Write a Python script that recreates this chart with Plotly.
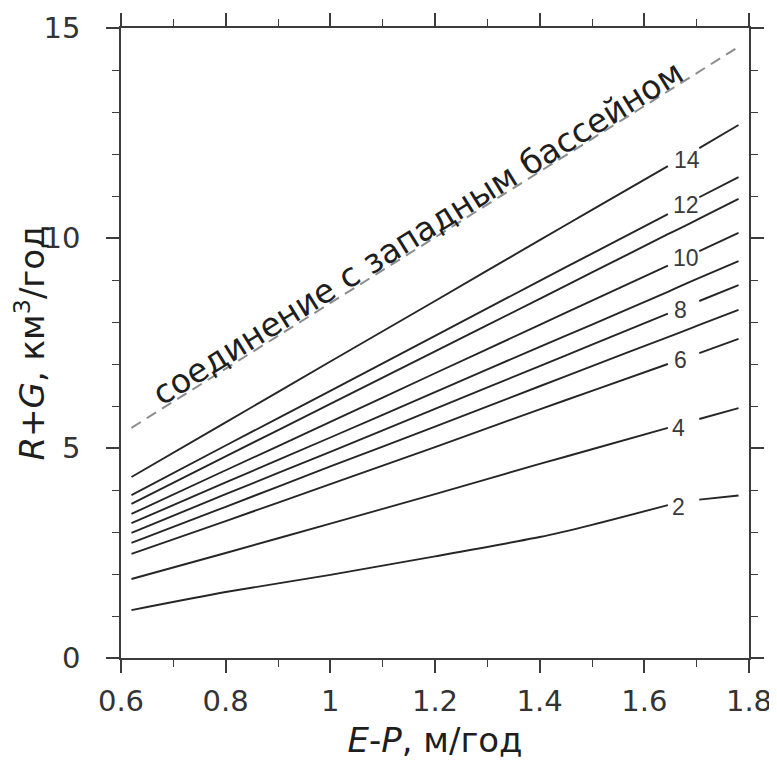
import plotly.graph_objects as go

# E-P grid (m/yr)
ep = [0.62, 0.8, 1.0, 1.2, 1.4, 1.5, 1.645, 1.67, 1.705, 1.78]

# R+G (km3/yr) isolines; None = gap for the inline label
rg_2 = [1.14, 1.57, 1.98, 2.42, 2.88, 3.17, 3.64, None, 3.77, 3.87]
rg_4 = [1.88, 2.50, 3.20, 3.90, 4.62, 4.97, 5.48, None, 5.69, 5.95]
rg_6 = [2.48, 3.26, 4.14, 5.02, 5.92, 6.36, 7.00, None, 7.26, 7.60]
rg_7 = [2.74, 3.60, 4.56, 5.51, 6.47, 6.95, 7.64, 7.76, 7.93, 8.29]
rg_8 = [2.98, 3.90, 4.91, 5.93, 6.95, 7.46, 8.20, None, 8.50, 8.88]
rg_9 = [3.21, 4.18, 5.25, 6.33, 7.41, 7.94, 8.72, 8.86, 9.05, 9.45]
rg_10 = [3.43, 4.47, 5.62, 6.78, 7.93, 8.51, 9.34, None, 9.69, 10.12]
rg_11 = [3.67, 4.80, 6.05, 7.30, 8.55, 9.18, 10.09, 10.24, 10.46, 10.93]
rg_12 = [3.88, 5.06, 6.36, 7.67, 8.98, 9.63, 10.57, None, 10.97, 11.45]
rg_14 = [4.31, 5.61, 7.06, 8.50, 9.95, 10.67, 11.71, None, 12.14, 12.69]

curves = [rg_2, rg_4, rg_6, rg_7, rg_8, rg_9, rg_10, rg_11, rg_12, rg_14]

# dashed "connection with western basin" line
conn_x = [0.62, 1.78]
conn_y = [5.48, 14.55]

# inline labels
label_text = ["2", "4", "6", "8", "10", "12", "14"]
label_x = [1.666, 1.666, 1.669, 1.669, 1.68, 1.68, 1.682]
label_y = [3.60, 5.48, 7.10, 8.29, 9.52, 10.79, 11.86]

annot_text = "соединение с западным бассейном"
annot_x = 1.168
annot_y = 10.12

x_ticks = [0.6, 0.8, 1.0, 1.2, 1.4, 1.6, 1.8]
x_ticktext = ["0.6", "0.8", "1", "1.2", "1.4", "1.6", "1.8"]
y_ticks = [0, 5, 10, 15]

FONT = "DejaVu Sans, Liberation Sans, Arial, sans-serif"
LFONT = "Liberation Sans, Arial, sans-serif"
LINE = "#262626"
AX = "#3c3c3c"

fig = go.Figure()
for c in curves:
    fig.add_trace(go.Scatter(x=ep, y=c, mode="lines", connectgaps=False,
                             line=dict(color=LINE, width=1.9, shape="spline", smoothing=0.6),
                             hoverinfo="skip", showlegend=False))
fig.add_trace(go.Scatter(x=conn_x, y=conn_y, mode="lines",
                         line=dict(color="#8c8c8c", width=2, dash="11px,7px"),
                         showlegend=False, hoverinfo="skip"))

for t, x, y in zip(label_text, label_x, label_y):
    fig.add_annotation(x=x, y=y, text=t, showarrow=False,
                       font=dict(family=LFONT, size=23, color="#3a3a3a"))

fig.add_annotation(x=annot_x, y=annot_y, text=annot_text, showarrow=False,
                   textangle=-32, font=dict(family=FONT, size=33, color="#1e1e1e"))

axis_common = dict(showline=True, linecolor=AX, linewidth=1.6, mirror="ticks",
                   ticks="outside", tickcolor=AX, tickwidth=1.6, ticklen=13,
                   showgrid=False, zeroline=False,
                   tickfont=dict(family=FONT, size=29, color="#333333"))

fig.update_xaxes(range=[0.6, 1.8], tickvals=x_ticks, ticktext=x_ticktext,
                 minor=dict(dtick=0.1, ticks="outside", ticklen=7, tickcolor=AX, tickwidth=1.4),
                 title=dict(text="<i>E</i>-<i>P</i>, м/год", standoff=12,
                            font=dict(family=FONT, size=34, color="#1e1e1e")),
                 ticklabelstandoff=3,
                 **axis_common)
fig.update_yaxes(range=[0, 15], tickvals=y_ticks,
                 minor=dict(dtick=1, ticks="outside", ticklen=7, tickcolor=AX, tickwidth=1.4),
                 title=dict(text="<i>R</i>+<i>G</i>, км<sup>3</sup>/год", standoff=14,
                            font=dict(family=FONT, size=34, color="#1e1e1e")),
                 ticklabelstandoff=20,
                 **axis_common)

fig.update_layout(width=769, height=766, plot_bgcolor="white", paper_bgcolor="white",
                  margin=dict(l=113, r=28, t=20, b=116, autoexpand=False),
                  showlegend=False)

fig.write_html("out.html")
